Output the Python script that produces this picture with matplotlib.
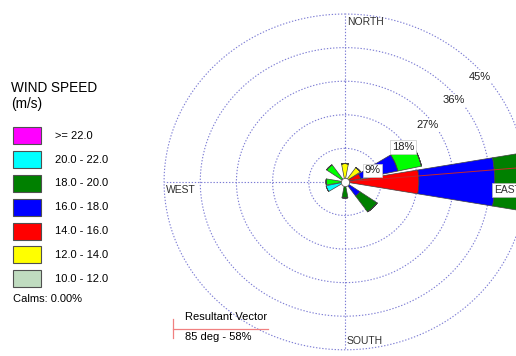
import numpy as np
import matplotlib
matplotlib.use("Agg")
import matplotlib.pyplot as plt
from matplotlib.patches import Rectangle
from matplotlib.lines import Line2D

plt.rcParams['font.family'] = ['Liberation Sans', 'DejaVu Sans']

# 16 compass sectors, clockwise from north
directions = ['N', 'NNE', 'NE', 'ENE', 'E', 'ESE', 'SE', 'SSE',
              'S', 'SSW', 'SW', 'WSW', 'W', 'WNW', 'NW', 'NNW']
# frequency (%) per speed class, stacked from the centre outwards
spd_10_12 = [0, 0, 0, 0, 0, 0, 0, 0, 0, 0, 0, 0, 0, 0, 0, 0]
spd_12_14 = [4.9, 0, 4.7, 0, 0, 0, 0, 0, 0, 0, 0, 0, 0, 0, 0, 0]
spd_14_16 = [0, 0, 0, 4.0, 18.4, 0, 0, 0, 0, 0, 0, 0, 0, 0, 0, 0]
spd_16_18 = [0, 0, 0, 9.5, 18.9, 0, 4.6, 0, 0, 0, 0, 0, 0, 0, 0, 0]
spd_18_20 = [0, 0, 0, 0, 8.0, 0, 5.2, 0, 4.3, 0, 0, 0, 0, 0, 0, 0]
spd_lime = [0, 0, 0, 6.0, 0, 0, 0, 0, 0, 0, 0, 0, 4.7, 0, 5.6, 0]
spd_20_22 = [0, 0, 0, 0, 0, 0, 0, 0, 0, 0, 0, 4.8, 0, 0, 0, 0]
spd_22_up = [0, 0, 0, 0, 0, 0, 0, 0, 0, 0, 0, 0, 0, 0, 0, 0]

stack = [(spd_10_12, '#c0dcc0'), (spd_12_14, '#ffff00'), (spd_14_16, '#ff0000'),
         (spd_16_18, '#0000ff'), (spd_18_20, '#008000'), (spd_lime, '#00ff00'),
         (spd_20_22, '#00ffff'), (spd_22_up, '#ff00ff')]

legend_labels = ['>= 22.0', '20.0 - 22.0', '18.0 - 20.0', '16.0 - 18.0',
                 '14.0 - 16.0', '12.0 - 14.0', '10.0 - 12.0']
legend_colors = ['#ff00ff', '#00ffff', '#008000', '#0000ff',
                 '#ff0000', '#ffff00', '#c0dcc0']

rings = [9, 18, 27, 36, 45]
ring_label_theta = [65.8, 57.0, 53.6, 51.0, 50.0]
ring_label_r = [7.5, 17.2, 25.6, 34.8, 43.9]

resultant_dir = 85
resultant_pct = 58
calms = 0.00

W, H = 516, 356
def fx(x):
    return x / W
def fy(y):
    return 1 - y / H

fig = plt.figure(figsize=(W / 100, H / 100), dpi=100)
ax = fig.add_axes([0.279, -0.035, 0.779, 1.048], projection='polar')
ax.set_aspect('auto')
ax.set_theta_zero_location('N')
ax.set_theta_direction(-1)
ax.set_ylim(0, 50)
ax.grid(False)
ax.set_xticks([])
ax.set_yticks([])
ax.spines['polar'].set_visible(False)
ax.patch.set_visible(False)

grid_c = '#7c7cd4'
tt = np.linspace(0, 2 * np.pi, 400)
for r in rings:
    ax.plot(tt, np.full_like(tt, r), color=grid_c, lw=0.8,
            ls=(0, (1.2, 1.6)), zorder=1)
for a in [0, 90, 180, 270]:
    ax.plot([np.deg2rad(a)] * 2, [0, 45], color=grid_c, lw=0.8,
            ls=(0, (1.2, 1.6)), zorder=1)

theta = np.deg2rad(np.arange(16) * 22.5)
width = np.deg2rad(20)
bottom = np.zeros(16)
for vals, col in stack:
    vals = np.array(vals, dtype=float)
    ax.bar(theta, vals, width=width, bottom=bottom, color=col,
           edgecolor='#404040', linewidth=0.5, zorder=2)
    bottom += vals

# resultant vector
ax.plot([np.deg2rad(resultant_dir)] * 2, [0, resultant_pct], color='#c82828',
        lw=0.7, zorder=4)
ax.plot(0, 0, 'o', ms=6, mfc='white', mec='#606060', mew=0.6, zorder=5)

for i, r in enumerate(rings):
    edge = '#c8c8c8' if i < 2 else 'none'
    ax.text(np.deg2rad(ring_label_theta[i]), ring_label_r[i], f'{r}%',
            fontsize=8, color='#202020', ha='center', va='center', zorder=6,
            bbox=dict(boxstyle='square,pad=0.15', fc='white', ec=edge, lw=0.5))

# compass labels
lab = dict(fontsize=7.5, color='#303030', va='center', ha='left', zorder=6)
fig.text(fx(347), fy(22), 'NORTH', **lab)
fig.text(fx(347), fy(341), 'SOUTH', **lab)
fig.text(fx(166), fy(190), 'WEST', **lab)
fig.text(fx(494), fy(190), 'EAST', bbox=dict(boxstyle='square,pad=0.2',
         fc='white', ec='#b0b0b0', lw=0.5), **lab)

# speed legend
fig.text(fx(11), fy(88), 'WIND SPEED', fontsize=9.8, va='center', ha='left')
fig.text(fx(11), fy(104), '(m/s)', fontsize=9.8, va='center', ha='left')
for i, (lbl, col) in enumerate(zip(legend_labels, legend_colors)):
    top = 127.3 + i * 23.8
    fig.add_artist(Rectangle((fx(13), fy(top + 17)), 28 / W, 17 / H,
                             transform=fig.transFigure, fc=col,
                             ec='#505050', lw=0.8))
    fig.text(fx(55), fy(top + 8.5), lbl, fontsize=8, va='center', ha='left')
fig.text(fx(13), fy(299), f'Calms: {calms:.2f}%', fontsize=8,
         va='center', ha='left')

# resultant vector key
fig.add_artist(Line2D([fx(173), fx(268)], [fy(329), fy(329)],
                      transform=fig.transFigure, color='#f08080', lw=0.9))
fig.add_artist(Line2D([fx(173), fx(173)], [fy(319), fy(338)],
                      transform=fig.transFigure, color='#f08080', lw=0.9))
fig.text(fx(185), fy(317), 'Resultant Vector', fontsize=8, va='center', ha='left')
fig.text(fx(185), fy(337), f'{resultant_dir} deg - {resultant_pct}%', fontsize=8,
         va='center', ha='left')

fig.savefig('out.png', dpi=100)
